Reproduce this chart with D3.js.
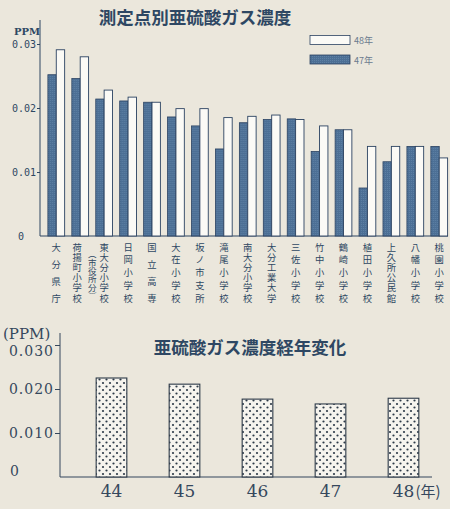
<!DOCTYPE html>
<html>
<head>
<meta charset="utf-8">
<script src="https://cdn.jsdelivr.net/npm/d3@7"></script>
<style>
  body { margin: 0; background: #ebe7dc; }
  svg { display: block; }
  text { font-family: "Noto Sans CJK JP", "DejaVu Serif", serif; }
</style>
</head>
<body>
<div id="chart"></div>
<script>
// top chart: SO2 concentration per measuring point
var sites = ["大分県庁", "荷揚町小学校", "東大分小学校", "日岡小学校", "国立高専",
  "大在小学校", "坂ノ市支所", "滝尾小学校", "南大分小学校", "大分工業大学",
  "三佐小学校", "竹中小学校", "鶴崎小学校", "植田小学校", "上久所公民館",
  "八幡小学校", "桃園小学校"];
var y47 = [0.0252, 0.0246, 0.0214, 0.0211, 0.0209, 0.0186, 0.0172, 0.0136, 0.0177,
  0.0182, 0.0183, 0.0132, 0.0166, 0.0075, 0.0116, 0.0140, 0.0140];
var y48 = [0.0291, 0.0280, 0.0228, 0.0217, 0.0209, 0.0199, 0.0199, 0.0185, 0.0187,
  0.0189, 0.0182, 0.0172, 0.0166, 0.0140, 0.0140, 0.0140, 0.0122];
var topTicks = [0, 0.01, 0.02, 0.03];
var topTickLabels = ["0", "0.01", "0.02", "0.03"];

// bottom chart: yearly change
var years = ["44", "45", "46", "47", "48"];
var yearly = [0.0225, 0.0211, 0.0177, 0.0166, 0.0179];
var botTicks = [0, 0.01, 0.02, 0.03];
var botTickLabels = ["0", "0.010", "0.020", "0.030"];

var W = 450, H = 509;
var ink = "#2e4763";
var svg = d3.select("#chart").append("svg")
  .attr("width", W).attr("height", H);

var defs = svg.append("defs");
var hatch = defs.append("pattern").attr("id", "hatch")
  .attr("patternUnits", "userSpaceOnUse").attr("width", 2).attr("height", 2);
hatch.append("rect").attr("width", 2).attr("height", 2).attr("fill", "#4c6f95");
hatch.append("rect").attr("width", 1).attr("height", 1).attr("fill", "#5d80a4");

var dots = defs.append("pattern").attr("id", "dots")
  .attr("patternUnits", "userSpaceOnUse").attr("width", 7).attr("height", 7);
dots.append("rect").attr("width", 7).attr("height", 7).attr("fill", "#f6f4ee");
dots.append("circle").attr("cx", 1.5).attr("cy", 1.5).attr("r", 1.1).attr("fill", "#2d3a48");
dots.append("circle").attr("cx", 5).attr("cy", 5).attr("r", 1.1).attr("fill", "#2d3a48");

/* ---------- top chart ---------- */
var topG = svg.append("g");
var x0 = d3.scaleBand().domain(d3.range(sites.length)).range([45.5, 450]).paddingInner(0.3).paddingOuter(0.1);
var x1 = d3.scaleBand().domain([0, 1]).range([0, x0.bandwidth()]);
var yTop = d3.scaleLinear().domain([0, 0.03]).range([236, 44]);

topG.append("text").attr("x", 195).attr("y", 24).attr("text-anchor", "middle")
  .attr("font-size", 17.5).attr("font-weight", "bold").attr("fill", ink)
  .style("font-family", "'Noto Sans CJK JP'")
  .text("測定点別亜硫酸ガス濃度");

topG.append("text").attr("x", 14).attr("y", 35).attr("font-size", 10)
  .attr("font-weight", "bold").attr("fill", ink).style("font-family", "'DejaVu Serif'").text("PPM");

var yAxTop = topG.append("g").attr("transform", "translate(40,0)")
  .call(d3.axisLeft(yTop).tickValues(topTicks).tickSize(3)
    .tickFormat(function(d, i) { return topTickLabels[i]; }));
yAxTop.select(".domain").attr("d", "M0,20V236").attr("stroke", ink);
yAxTop.selectAll(".tick line").attr("stroke", ink);
yAxTop.selectAll(".tick text").attr("fill", ink).attr("font-size", 10)
  .style("font-family", "'DejaVu Sans Mono'").attr("x", -4);
yAxTop.selectAll(".tick").filter(function(d) { return d == 0; }).select("line").remove();
yAxTop.selectAll(".tick").filter(function(d) { return d == 0; }).select("text").attr("x", -16);

topG.append("line").attr("x1", 40).attr("x2", 448).attr("y1", 236).attr("y2", 236)
  .attr("stroke", ink).attr("stroke-width", 1.2);

var groups = topG.selectAll(".grp").data(sites).enter().append("g")
  .attr("transform", function(d, i) { return "translate(" + x0(i) + ",0)"; });
groups.append("rect").attr("x", x1(0)).attr("width", x1.bandwidth())
  .attr("y", function(d, i) { return yTop(y47[i]); })
  .attr("height", function(d, i) { return 236 - yTop(y47[i]); })
  .attr("fill", "url(#hatch)").attr("stroke", "#2b4261").attr("stroke-width", 0.8);
groups.append("rect").attr("x", x1(1)).attr("width", x1.bandwidth())
  .attr("y", function(d, i) { return yTop(y48[i]); })
  .attr("height", function(d, i) { return 236 - yTop(y48[i]); })
  .attr("fill", "#fbfaf6").attr("stroke", "#2b4261").attr("stroke-width", 0.9);

// vertical labels: one text per column, spread so first and last glyph centres hit yA / yB
function vertLabel(g, str, cx, yA, yB, size) {
  var n = str.length;
  var ls = n > 1 ? (yB - yA) / (n - 1) - size : 0;
  g.append("text").attr("x", cx).attr("y", yA - size / 2)
    .style("writing-mode", "vertical-rl")
    .style("letter-spacing", ls + "px")
    .attr("font-size", size).attr("fill", ink).text(str);
}
sites.forEach(function(s, i) {
  var cx = x0(i) + x0.bandwidth() / 2;
  if (i == 1) cx -= 3;
  vertLabel(topG, s, cx, 247, 298, 9.3);
});
vertLabel(topG, "（市役所分）", x0(1) + x0.bandwidth() / 2 + 12, 254, 296, 8.5);

// legend
topG.append("rect").attr("x", 310).attr("y", 35.5).attr("width", 40).attr("height", 9)
  .attr("fill", "#fbfaf6").attr("stroke", "#2b4261").attr("stroke-width", 0.8);
topG.append("rect").attr("x", 310).attr("y", 55).attr("width", 40).attr("height", 9)
  .attr("fill", "url(#hatch)").attr("stroke", "#2b4261").attr("stroke-width", 0.8);
topG.append("text").attr("x", 354).attr("y", 44).attr("font-size", 9).attr("fill", "#6a7a8e").text("48年");
topG.append("text").attr("x", 354).attr("y", 63.5).attr("font-size", 9).attr("fill", "#6a7a8e").text("47年");

/* ---------- bottom chart ---------- */
var bot = svg.append("g");
var ink2 = "#35475c";
var xb = d3.scaleBand().domain(years).range([75, 440]).paddingInner(0.58).paddingOuter(0.29);
var yb = d3.scaleLinear().domain([0, 0.03]).range([477, 345]);

bot.append("text").attr("x", 250).attr("y", 354).attr("text-anchor", "middle")
  .attr("font-size", 17.5).attr("font-weight", "bold").attr("fill", ink)
  .text("亜硫酸ガス濃度経年変化");

bot.append("text").attr("x", 3).attr("y", 339).attr("font-size", 15)
  .attr("fill", ink2).style("font-family", "'DejaVu Serif'").text("(PPM)");

var yAxBot = bot.append("g").attr("transform", "translate(60,0)")
  .call(d3.axisLeft(yb).tickValues(botTicks).tickSize(5)
    .tickFormat(function(d, i) { return botTickLabels[i]; }));
yAxBot.select(".domain").attr("d", "M0,333V477").attr("stroke", ink2);
yAxBot.selectAll(".tick line").attr("stroke", ink2);
yAxBot.selectAll(".tick text").attr("fill", ink2).attr("font-size", 14)
  .style("font-family", "'DejaVu Serif'").attr("x", -6).attr("letter-spacing", 1);
yAxBot.selectAll(".tick").filter(function(d) { return d == 0.03; }).select("text")
  .attr("dy", "0.75em");
yAxBot.selectAll(".tick").filter(function(d) { return d == 0; }).select("line").remove();
yAxBot.selectAll(".tick").filter(function(d) { return d == 0; }).select("text")
  .attr("text-anchor", "start").attr("x", -50).attr("dy", "-0.1em");

bot.append("line").attr("x1", 60).attr("x2", 432).attr("y1", 477).attr("y2", 477)
  .attr("stroke", ink2).attr("stroke-width", 1.2);

bot.selectAll(".yb").data(years).enter().append("rect")
  .attr("x", function(d) { return xb(d); }).attr("width", xb.bandwidth())
  .attr("y", function(d, i) { return yb(yearly[i]); })
  .attr("height", function(d, i) { return 477 - yb(yearly[i]); })
  .attr("fill", "url(#dots)").attr("stroke", "#2d3a48").attr("stroke-width", 1.1);

bot.selectAll(".yl").data(years).enter().append("text")
  .attr("x", function(d) { return xb(d) + xb.bandwidth() / 2; }).attr("y", 497)
  .attr("text-anchor", "middle").attr("font-size", 17).attr("fill", ink2)
  .style("font-family", "'DejaVu Serif'").text(function(d) { return d; });
bot.append("text").attr("x", xb("48") + xb.bandwidth() / 2 + 12).attr("y", 497)
  .attr("font-size", 15).attr("fill", ink2).text("(年)");
</script>
</body>
</html>
